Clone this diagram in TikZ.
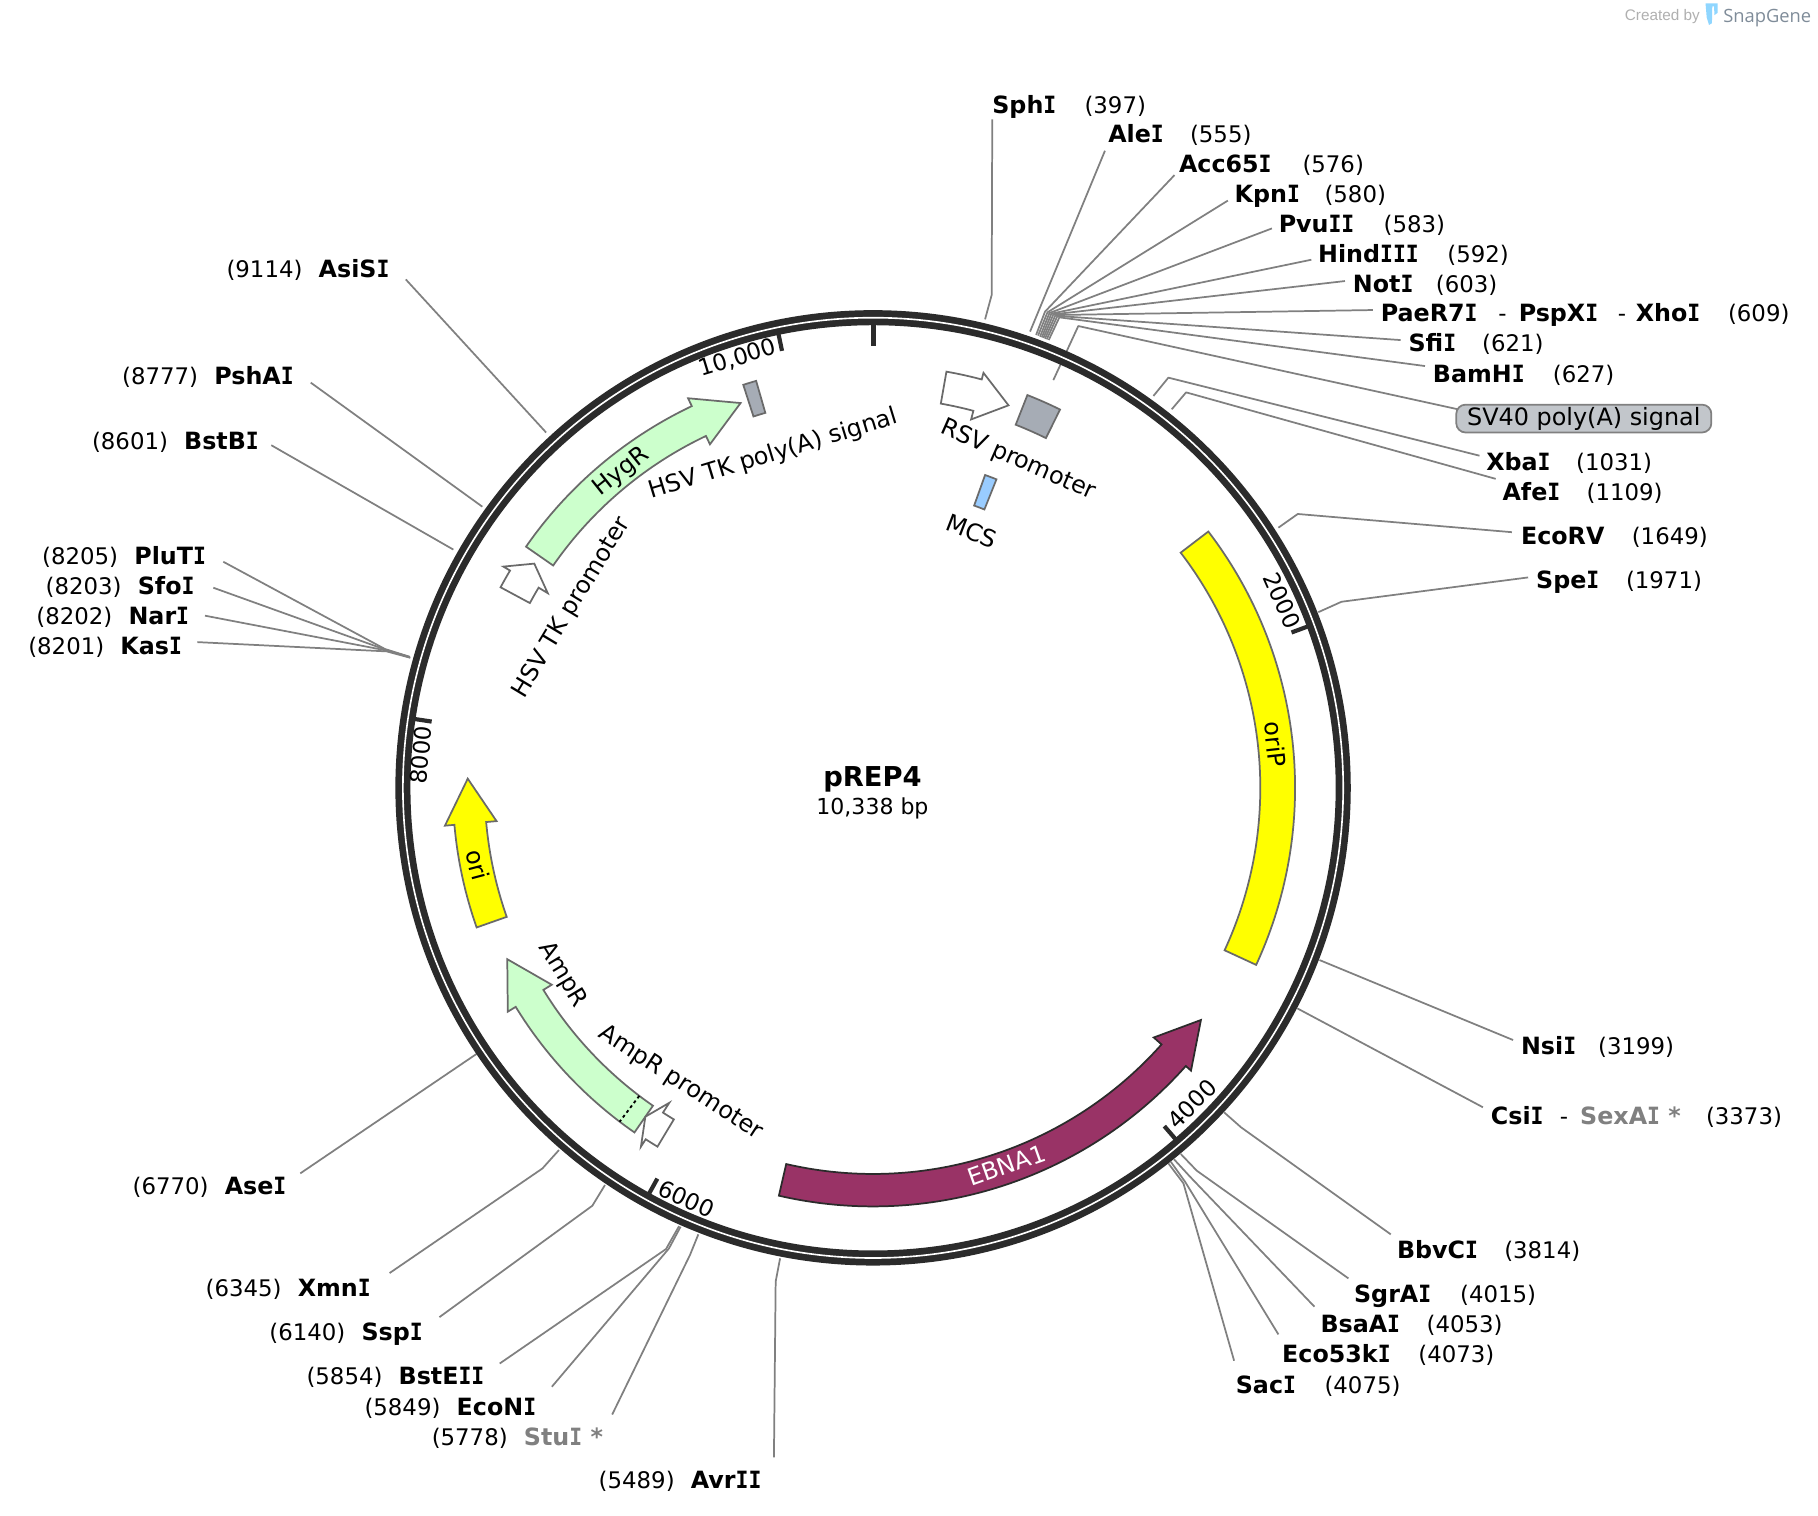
\documentclass[tikz,border=0pt]{standalone}
\usepackage{fontspec}
\setmainfont{DejaVu Sans}
\newfontfamily\monoface{DejaVu Sans Mono}
\newfontfamily\logoface{Open Sans}
\newfontfamily\credface{Liberation Sans}
\definecolor{ringc}{HTML}{2B2B2B}
\definecolor{leadc}{HTML}{808080}
\definecolor{edgec}{HTML}{6A6A6A}
\definecolor{hyg}{HTML}{CCFFCC}
\definecolor{ebna}{HTML}{993366}
\definecolor{polya}{HTML}{A6ACB5}
\definecolor{mcs}{HTML}{99CCFF}
\definecolor{yel}{RGB}{255,255,0}
\definecolor{svfill}{HTML}{C2C6CB}
\definecolor{snapc}{HTML}{7F8C99}
\definecolor{credc}{HTML}{B0B0B0}
\definecolor{logoc}{HTML}{8FD6FF}
\newcommand{\vI}{\scalebox{0.9}[1]{\monoface\bfseries I}}
\newcommand{\PP}[2]{({#1-90}:#2)}
% arrow feature: style, r inner, r outer, wing inner, wing outer, tail, base, tip, r tip
\newcommand{\featarrow}[9]{%
  \draw[#1] \PP{#6}{#3} arc[start angle={#6-90},end angle={#7-90},radius=#3]
    -- \PP{#7}{#5} -- \PP{#8}{#9} -- \PP{#7}{#4} -- \PP{#7}{#2}
    arc[start angle={#7-90},end angle={#6-90},radius=#2] -- cycle;}
% box feature: style, r inner, r outer, a1, a2
\newcommand{\featbox}[5]{%
  \draw[#1] \PP{#4}{#3} arc[start angle={#4-90},end angle={#5-90},radius=#3]
    -- \PP{#5}{#2} arc[start angle={#5-90},end angle={#4-90},radius=#2] -- cycle;}
% label helpers: id, x, y-centre, text
\newcommand{\enz}[4]{\node[enzname] (#1) at (#2-0.5,#3+7.5) {#4};}
\newcommand{\enzg}[4]{\node[enzname,text=leadc] (#1) at (#2-0.5,#3+7.5) {#4};}
\newcommand{\pos}[4]{\node[enzpos] (#1) at (#2-1,#3+7.5) {#4};}
% leaders: id, ring, elbow, free end
\newcommand{\leadthree}[4]{\coordinate (#1r) at (#2);\coordinate (#1e) at (#3);\coordinate (#1l) at (#4);
  \draw[leadline] (#1r) -- (#1e) -- (#1l);}
\newcommand{\leadtwo}[3]{\coordinate (#1r) at (#2);\coordinate (#1l) at (#3);
  \draw[leadline] (#1r) -- (#1l);}
\tikzset{
  enzname/.style={anchor=base west,inner sep=0pt,font=\fontsize{10.25}{12}\selectfont\bfseries},
  enzpos/.style={anchor=base west,inner sep=0pt,font=\fontsize{9.85}{12}\selectfont},
  leadline/.style={draw=leadc,line width=0.75pt,line join=round},
  feat/.style={draw=edgec,line width=0.75pt,line join=miter},
  flab/.style={inner sep=0pt,font=\fontsize{10.3}{12}\selectfont},
  ticklab/.style={inner sep=0pt,font=\fontsize{9.9}{12}\selectfont},
  tickmark/.style={draw=ringc,line width=1.8pt},
}
\begin{document}
\begin{tikzpicture}[x=0.5pt,y=-0.5pt]
\useasboundingbox (0,0) rectangle (1568,1307.5);
\fill[white] (0,0) rectangle (1568,1307.5);

% leaders first (beneath the ring)
\leadthree{sph}{849.6,275.4}{855.3,254.4}{855.8,103}
\leadtwo{ale}{888.4,286}{953,130}
\leadthree{acc}{893.6,288.9}{901.3,268.8}{1013,151}
\leadthree{kpn}{895.3,289.5}{903.4,269.4}{1059,173}
\leadthree{pvu}{897,290.4}{905.1,270}{1097,197}
\leadthree{hin}{898.5,291}{906.8,270.5}{1131,224}
\leadthree{not}{899.9,291.5}{908.5,271.1}{1160,242.4}
\leadthree{pae}{901.3,292.1}{910.3,271.7}{1184,267.4}
\leadthree{sfi}{902.8,292.7}{912,272.5}{1208,293.3}
\leadthree{bam}{904.5,293.3}{913.7,273.7}{1229,315.7}
\leadthree{xba}{994.8,341.5}{1007.7,325.7}{1276,393}
\leadthree{afe}{1010.6,353}{1023,338.4}{1290,413}
\leadthree{ecv}{1102.6,455.1}{1119.3,443.3}{1304,459}
\leadthree{spe}{1137,528}{1157,519}{1318,498}
\leadtwo{nsi}{1138,828}{1305,897}
\leadtwo{csi}{1118.9,869.7}{1279,955}
\leadthree{bbv}{1055.8,959.4}{1070.4,972.3}{1199.5,1064.6}
\leadthree{sgr}{1018.4,995.3}{1032.2,1009.7}{1163,1102.6}
\leadthree{bsa}{1012.6,999.9}{1026.4,1014.9}{1133.7,1127}
\leadthree{eco}{1009.8,1002}{1022.1,1019.2}{1102.6,1150.9}
\leadthree{sac}{1007.7,1003.4}{1020.7,1020.6}{1064.4,1173.6}
\leadtwo{ase}{411,909}{259,1012}
\leadthree{xmn}{482.1,991.9}{467.8,1007.8}{336,1098}
\leadthree{ssp}{521.8,1022}{510.9,1039.9}{379,1136}
\leadthree{bst}{585.7,1057.5}{574.4,1077.3}{431,1176}
\leadthree{ecn}{587,1058}{577,1076.7}{476,1196}
\leadthree{stu}{602.3,1064.6}{595.1,1082.4}{528,1220}
\leadthree{avr}{672.8,1085.3}{669,1105.3}{667.5,1257}
\leadtwo{asi}{471,373}{350,241}
\leadtwo{psh}{416,437}{268,330}
\leadtwo{bbi}{391,474}{234,384}
\leadthree{plu}{353.2,566.4}{332.1,559.8}{192.6,484.5}
\leadthree{sfo}{353.4,566.7}{332.7,560.4}{184,506.9}
\leadthree{nar}{353.6,567}{333.2,561}{176.8,531}
\leadthree{kas}{353.9,567.3}{333.5,561.8}{170.2,553.8}
\leadthree{sv}{908.5,327.8}{930,281.2}{1262,354}

\begin{scope}[shift={(753,679.5)}]
  % backbone
  \draw[ringc,line width=6.5pt] (0,0) circle[radius=405.5];
  \draw[white,line width=0.7pt] (0,0) circle[radius=405.5];
  % ticks
  \draw[tickmark,line width=2.1pt] \PP{0}{400} -- \PP{0}{381};
  \draw[tickmark] \PP{69.63}{400} -- \PP{69.63}{385};
  \draw[tickmark] \PP{139.27}{400} -- \PP{139.27}{385};
  \draw[tickmark] \PP{208.9}{400} -- \PP{208.9}{385};
  \draw[tickmark] \PP{278.54}{400} -- \PP{278.54}{385};
  \draw[tickmark] \PP{348.23}{400} -- \PP{348.23}{385};
  % features
  \featbox{feat,fill=yel}{334}{364}{52.6}{114.8}
  \featarrow{draw=ringc,line width=0.75pt,line join=miter,fill=ebna}{333}{361}{324}{367}{193}{131.65}{125.3}{346.5}
  \featarrow{feat,fill=hyg}{336}{364.5}{328}{372}{-55.2}{-25.4}{-19}{351}
  \featarrow{feat,fill=hyg}{333.5}{361.5}{325}{369.5}{214.7}{238.5}{244.9}{348.4}
  \featarrow{feat,fill=yel}{335}{362.5}{326}{370.7}{250.6}{264.95}{271.3}{349.7}
  \draw[black,line width=0.8pt,dash pattern=on 1.3pt off 1.3pt] \PP{217.2}{333.5} -- \PP{217.2}{361.5};
  \featarrow{feat,fill=white}{336.5}{364.5}{328.8}{370.4}{10}{14.9}{19.5}{350}
  \featarrow{feat,fill=white}{336.2}{364.9}{327}{371.6}{-61.7}{-59.1}{-56.5}{350.4}
  \featarrow{feat,fill=white}{333.6}{361}{323.5}{368.6}{211}{212.9}{214.7}{345}
  \featbox{feat,fill=polya}{336.5}{364}{21.45}{26.3}
  \featbox{feat,fill=polya}{336.5}{365.2}{-17.85}{-16.03}
  \featbox{feat,fill=mcs}{258.6}{286.6}{19.7}{21.8}
\end{scope}

% tick labels
\node[ticklab,rotate=-66] (t2k) at (1106,518) {2000};
\node[ticklab,rotate=45] (t4k) at (1028,952) {4000};
\node[ticklab,rotate=-24.6] (t6k) at (592,1034) {6000};
\node[ticklab,rotate=85] (t8k) at (363,651) {8000};
\node[ticklab,rotate=17] (t10k) at (636,309) {10,000};

% feature labels
\node[flab,rotate=-83.6] (foriP) at (1100,642) {oriP};
\node[flab,rotate=19.5,text=white] (febna) at (868,1005) {EBNA1};
\node[flab,rotate=38.5] (fhyg) at (536,407) {HygR};
\node[flab,rotate=17] (fpa) at (667,392) {HSV TK poly(A) signal};
\node[flab,rotate=59] (fhp) at (493,524) {HSV TK promoter};
\node[flab,rotate=-59] (famp) at (485,841) {AmpR};
\node[flab,rotate=-33] (fap) at (587,934) {AmpR promoter};
\node[flab,rotate=-75] (fori) at (412,746) {ori};
\node[flab,rotate=-23.8] (frsv) at (878,397) {RSV promoter};
\node[flab,rotate=-20.9] (fmcs) at (838,458) {MCS};
\node[flab,draw=leadc,fill=svfill,rounded corners=4pt,minimum width=110pt,minimum height=12pt,line width=0.75pt] (fsv) at (1366,361) {\raisebox{-0.5pt}{SV40 poly(A) signal}};

% centre
\node[inner sep=0pt,font=\fontsize{11.8}{14}\selectfont\bfseries] (title) at (752.5,672.5) {pREP4};
\node[inner sep=0pt,font=\fontsize{9.5}{12}\selectfont] (size) at (752.5,697.5) {10,338 bp};

% enzyme labels, right
\enz{nsph}{856}{90}{Sph\vI}\pos{psph}{936}{90}{(397)}
\enz{nale}{956}{115}{Ale\vI}\pos{pale}{1027}{115}{(555)}
\enz{nacc}{1017}{141}{Acc65\vI}\pos{pacc}{1124}{141}{(576)}
\enz{nkpn}{1065}{167}{Kpn\vI}\pos{pkpn}{1143}{167}{(580)}
\enz{npvu}{1103}{193}{Pvu\vI\vI}\pos{ppvu}{1194}{193}{(583)}
\enz{nhin}{1137}{219}{Hind\vI\vI\vI}\pos{phin}{1249}{219}{(592)}
\enz{nnot}{1167}{245}{Not\vI}\pos{pnot}{1239}{245}{(603)}
\enz{npae}{1191}{270}{PaeR7\vI}\pos{dpae}{1293}{270}{-}\enz{npsp}{1310}{270}{PspX\vI}\pos{dpsp}{1396}{270}{-}\enz{nxho}{1411}{270}{Xho\vI}\pos{pxho}{1491}{270}{(609)}
\enz{nsfi}{1215}{296}{Sfi\vI}\pos{psfi}{1279}{296}{(621)}
\enz{nbam}{1236}{322}{BamH\vI}\pos{pbam}{1340}{322}{(627)}
\enz{nxba}{1282}{398}{Xba\vI}\pos{pxba}{1360}{398}{(1031)}
\enz{nafe}{1296}{424}{Afe\vI}\pos{pafe}{1369}{424}{(1109)}
\enz{necv}{1312}{462}{EcoRV}\pos{pecv}{1408}{462}{(1649)}
\enz{nspe}{1325}{500}{Spe\vI}\pos{pspe}{1403}{500}{(1971)}
\enz{nnsi}{1312}{902}{Nsi\vI}\pos{pnsi}{1379}{902}{(3199)}
\enz{ncsi}{1286}{962}{Csi\vI}\pos{dcsi}{1346}{962}{-}\enzg{nsex}{1363}{962}{SexA\vI{} *}\pos{pcsi}{1472}{962}{(3373)}
\enz{nbbv}{1205}{1078}{BbvC\vI}\pos{pbbv}{1298}{1078}{(3814)}
\enz{nsgr}{1168}{1116}{SgrA\vI}\pos{psgr}{1260}{1116}{(4015)}
\enz{nbsa}{1139}{1142}{BsaA\vI}\pos{pbsa}{1231}{1142}{(4053)}
\enz{neco}{1106}{1168}{Eco53k\vI}\pos{peco}{1224}{1168}{(4073)}
\enz{nsac}{1066}{1194}{Sac\vI}\pos{psac}{1143}{1194}{(4075)}
% enzyme labels, left
\pos{pasi}{196}{232}{(9114)}\enz{nasi}{275}{232}{AsiS\vI}
\pos{ppsh}{106}{324}{(8777)}\enz{npsh}{185}{324}{PshA\vI}
\pos{pbbi}{80}{380}{(8601)}\enz{nbbi}{159}{380}{BstB\vI}
\pos{pplu}{37}{479}{(8205)}\enz{nplu}{116}{479}{PluT\vI}
\pos{psfo}{40}{505}{(8203)}\enz{nsfo}{119}{505}{Sfo\vI}
\pos{pnar}{32}{531}{(8202)}\enz{nnar}{111}{531}{Nar\vI}
\pos{pkas}{25}{557}{(8201)}\enz{nkas}{104}{557}{Kas\vI}
\pos{pase}{115}{1023}{(6770)}\enz{nase}{194}{1023}{Ase\vI}
\pos{pxmn}{178}{1111}{(6345)}\enz{nxmn}{257}{1111}{Xmn\vI}
\pos{pssp}{233}{1149}{(6140)}\enz{nssp}{312}{1149}{Ssp\vI}
\pos{pbst}{265}{1187}{(5854)}\enz{nbst}{344}{1187}{BstE\vI\vI}
\pos{pecn}{315}{1213}{(5849)}\enz{necn}{394}{1213}{EcoN\vI}
\pos{pstu}{373}{1239}{(5778)}\enzg{nstu}{452}{1239}{Stu\vI{} *}
\pos{pavr}{517}{1276}{(5489)}\enz{navr}{596}{1276}{Avr\vI\vI}

% credit
\node[inner sep=0pt,anchor=base west,text=credc,font=\fontsize{6.6}{8}\selectfont\credface] (cred) at (1401,18) {Created by};
\node[inner sep=0pt,anchor=base west,text=snapc,font=\fontsize{7.9}{10}\selectfont\logoface] (snap) at (1486,19.5) {SnapGene};
\fill[logoc] (1471,3) -- (1481.5,3) -- (1481.5,11) -- (1478.7,13) -- (1478.3,5.5) -- (1476.8,5.5) -- (1476.5,20) -- (1474,21.5) -- (1472,15) -- cycle;
\end{tikzpicture}
\end{document}
